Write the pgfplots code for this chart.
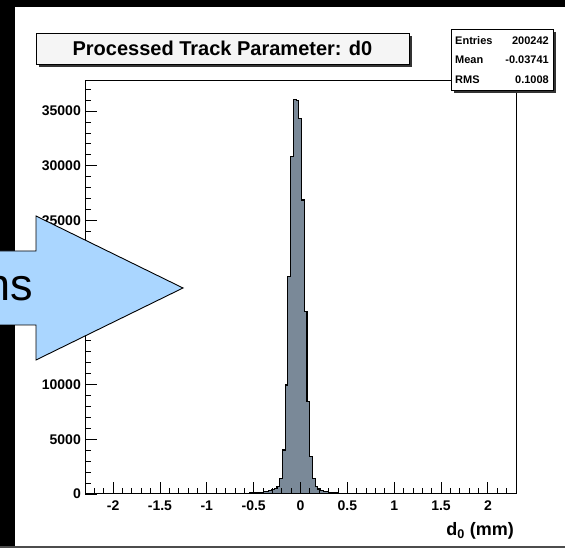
\documentclass[border=0pt]{standalone}
\usepackage{fontspec}
\setmainfont{Liberation Sans}
\usepackage{pgfplots}
\pgfplotsset{compat=1.18}
\usepackage{pgfplotstable}
\definecolor{histfill}{RGB}{122,137,152}
\definecolor{arrowblue}{RGB}{170,214,255}
\definecolor{boxgray}{RGB}{245,245,245}

\pgfplotstableread{
x y
-0.8034 20
-0.7743 25
-0.7452 30
-0.7161 35
-0.6870 40
-0.6579 50
-0.6288 55
-0.5997 65
-0.5706 75
-0.5415 90
-0.5124 100
-0.4833 120
-0.4542 140
-0.4251 170
-0.3960 200
-0.3669 240
-0.3378 300
-0.3087 370
-0.2796 480
-0.2505 700
-0.2214 1430
-0.1923 4020
-0.1632 9960
-0.1341 19860
-0.1050 30830
-0.0759 36080
-0.0468 35950
-0.0177 34340
0.0114 26870
0.0405 16670
0.0696 8440
0.0987 3410
0.1278 1430
0.1569 700
0.1860 460
0.2151 330
0.2442 250
0.2733 190
0.3024 150
0.3315 120
0.3606 100
0.3897 80
0.4188 65
0.4479 55
0.4770 45
0.5061 40
0.5352 35
0.5643 30
0.5934 25
0.6225 20
0.6516 18
0.6807 15
0.7098 12
0.7389 12
}\histdata

\begin{document}
\begin{tikzpicture}
\useasboundingbox (0,0) rectangle (565pt,548pt);
\clip (0,0) rectangle (565pt,548pt);
\fill[white] (0,0) rectangle (565pt,548pt);

\begin{axis}[
  at={(85pt,54pt)}, anchor=south west,
  scale only axis, width=431pt, height=413pt,
  xmin=-2.3, xmax=2.3, ymin=0, ymax=37750,
  xtick={-2,-1.5,...,2},
  minor xtick={-2.3,-2.2,...,2.31},
  ytick={0,5000,...,35000},
  minor ytick={0,1000,...,37000},
  tick align=inside, tick pos=left,
  major tick length=12pt, minor tick length=6pt,
  scaled y ticks=false, scaled x ticks=false,
  /pgf/number format/assume math mode=true,
  yticklabel style={/pgf/number format/fixed, /pgf/number format/1000 sep={}, anchor=east, inner xsep=0pt, xshift=-4pt},
  xticklabel style={/pgf/number format/fixed, anchor=north, inner sep=0pt, yshift=-7pt},
  ticklabel style={font=\fontsize{14}{14}\selectfont\bfseries},
  axis line style={line width=1pt, black},
  every tick/.style={black, line width=0.8pt},
  axis on top,
]
\addplot[const plot mark left, fill=histfill, draw=black, line width=1.1pt] table[x=x,y=y] {\histdata} \closedcycle;
\end{axis}

\begin{scope}[x=1pt,y=-1pt,shift={(0pt,548pt)}]
  % slide background strips
  \fill[black] (0,0) rectangle (565,7.5);
  \fill[black] (0,0) rectangle (15,548);
  \fill[black!70] (0,546.5) rectangle (565,548);
  % title box
  \fill[black!80] (39,36) rectangle (412,67);
  \filldraw[fill=boxgray, draw=black, line width=0.8pt] (36,33) rectangle (409,64);
  \node[font=\fontsize{20}{20}\selectfont\bfseries] at (222.5,48.5) {Processed Track Parameter: d0};
  % stats box
  \fill[black!80] (454,32) rectangle (556,93);
  \filldraw[fill=white, draw=black, line width=0.8pt] (451,29) rectangle (553,90);
  \begin{scope}[every node/.style={font=\fontsize{11}{11}\selectfont\bfseries, inner sep=0pt}]
    \node[anchor=west] at (455,40.5) {Entries};
    \node[anchor=east] at (549,40.5) {200242};
    \node[anchor=west] at (455,60) {Mean};
    \node[anchor=east] at (549,60) {-0.03741};
    \node[anchor=west] at (455,79.5) {RMS};
    \node[anchor=east] at (549,79.5) {0.1008};
  \end{scope}
  % x axis title
  \node[anchor=east, inner sep=0pt, font=\fontsize{18}{18}\selectfont\bfseries] at (514,531) {d\textsubscript{0} (mm)};
  % arrow overlay
  \filldraw[fill=arrowblue, draw=black, line width=0.9pt]
    (-10,251) -- (36,251) -- (36,216) -- (183,288) -- (36,360) -- (36,325) -- (-10,325) -- cycle;
  \node[anchor=base east, inner sep=0pt, font=\fontsize{45}{45}\selectfont] at (33,301) {ns};
\end{scope}
\end{tikzpicture}
\end{document}
